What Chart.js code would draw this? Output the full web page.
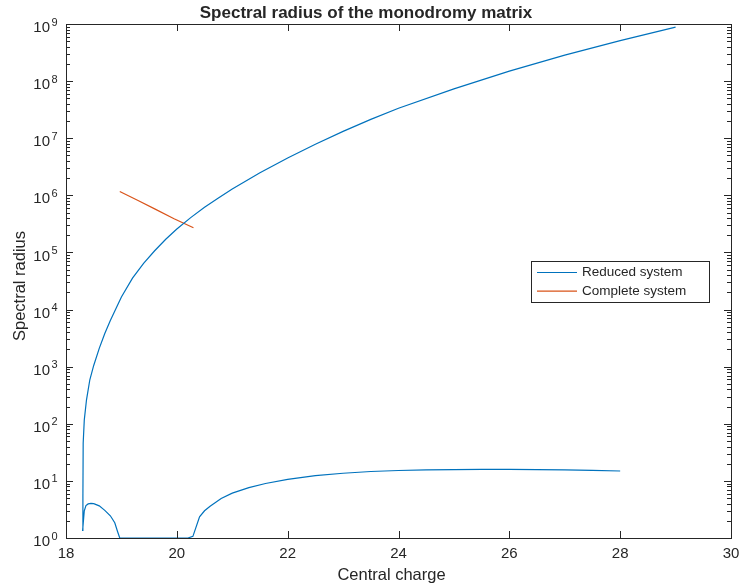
<!DOCTYPE html>
<html>
<head>
<meta charset="utf-8">
<script src="https://cdn.jsdelivr.net/npm/chart.js@4.4.0/dist/chart.umd.min.js"></script>
<style>
  html, body { margin: 0; padding: 0; background: #ffffff; }
  #wrap { width: 739px; height: 586px; }
</style>
</head>
<body>
<div id="wrap"><canvas id="chart" width="739" height="586"></canvas></div>
<script>
// lower branch (28 -> 18.3) then upper branch (18.3 -> 29), drawn as one line
var reducedX = [
    28.00, 27.50, 27.00, 26.50, 26.00, 25.50, 25.00, 24.50, 24.00, 23.50, 23.00, 22.50,
    22.00, 21.60, 21.30, 21.00, 20.80, 20.60, 20.50, 20.41, 20.29, 20.20, 20.00, 19.60,
    19.20, 18.97, 18.93, 18.88, 18.80, 18.70, 18.60, 18.50, 18.45, 18.40, 18.36, 18.33,
    18.30,
    18.305, 18.31, 18.33, 18.37, 18.43, 18.50, 18.60, 18.70, 18.80, 18.90, 19.00, 19.20,
    19.40, 19.60, 19.80, 20.00, 20.25, 20.50, 20.75, 21.00, 21.50, 22.00, 22.50, 23.00,
    23.50, 24.00, 25.00, 26.00, 27.00, 28.00, 29.00
];
var reducedY = [
    14.9, 15.3, 15.6, 15.8, 15.9, 15.9, 15.8, 15.6, 15.2, 14.6, 13.6, 12.4,
    10.6, 9.0, 7.6, 6.1, 4.9, 3.6, 3.0, 2.35, 1.07, 1.0, 1.0, 1.0,
    1.0, 1.0, 1.3, 1.85, 2.45, 3.05, 3.65, 4.0, 4.05, 3.95, 3.7, 3.0,
    1.36,
    5.2, 46, 117, 263, 590, 1050, 2090, 3800, 6460, 10350, 16600, 35500,
    64600, 1.07e5, 1.7e5, 2.57e5, 4.07e5, 6.17e5, 9.02e5, 1.29e6, 2.48e6, 4.52e6, 7.85e6, 1.32e7,
    2.14e7, 3.35e7, 7.33e7, 1.5e8, 2.85e8, 5.13e8, 8.81e8
];
var completeX = [18.97, 19.30, 19.60, 19.95, 20.30];
var completeY = [1.17e6, 8.1e5, 5.8e5, 3.9e5, 2.7e5];

var xTicks = [18, 20, 22, 24, 26, 28, 30];
var yTickExp = [0, 1, 2, 3, 4, 5, 6, 7, 8, 9];
var seriesNames = ['Reduced system', 'Complete system'];
var seriesColors = ['#0072BD', '#D95319'];
var titleText = 'Spectral radius of the monodromy matrix';
var xLabelText = 'Central charge';
var yLabelText = 'Spectral radius';

var FONT = '"Liberation Sans", Arial, Helvetica, sans-serif';
var INK = '#262626';

function toPoints(xs, ys) {
    return xs.map(function (x, i) { return { x: x, y: ys[i] }; });
}

// MATLAB-like box axes: ticks inside, labels with superscript exponents, inset legend
var matlabAxes = {
    id: 'matlabAxes',
    afterDatasetsDraw: function (chart) {
        var ctx = chart.ctx;
        var a = chart.chartArea;
        var xs = chart.scales.x;
        var ys = chart.scales.y;

        ctx.save();
        ctx.strokeStyle = INK;
        ctx.fillStyle = INK;
        ctx.lineWidth = 1;
        ctx.strokeRect(a.left + 0.5, a.top + 0.5, a.right - a.left, a.bottom - a.top);

        ctx.beginPath();
        xTicks.forEach(function (t) {
            var px = Math.round(xs.getPixelForValue(t)) + 0.5;
            ctx.moveTo(px, a.bottom); ctx.lineTo(px, a.bottom - 7);
            ctx.moveTo(px, a.top); ctx.lineTo(px, a.top + 7);
        });
        yTickExp.forEach(function (e) {
            var py = Math.round(ys.getPixelForValue(Math.pow(10, e))) + 0.5;
            ctx.moveTo(a.left, py); ctx.lineTo(a.left + 7, py);
            ctx.moveTo(a.right, py); ctx.lineTo(a.right - 7, py);
            if (e < 9) {
                for (var m = 2; m <= 9; m++) {
                    var pm = Math.round(ys.getPixelForValue(m * Math.pow(10, e))) + 0.5;
                    ctx.moveTo(a.left, pm); ctx.lineTo(a.left + 4, pm);
                    ctx.moveTo(a.right, pm); ctx.lineTo(a.right - 4, pm);
                }
            }
        });
        ctx.stroke();

        ctx.font = '15px ' + FONT;
        ctx.textAlign = 'center';
        ctx.textBaseline = 'middle';
        xTicks.forEach(function (t) {
            ctx.fillText(String(t), xs.getPixelForValue(t), a.bottom + 16);
        });

        yTickExp.forEach(function (e) {
            var py = ys.getPixelForValue(Math.pow(10, e));
            ctx.font = '15px ' + FONT;
            ctx.textAlign = 'right';
            ctx.fillText('10', a.left - 16, py + 4);
            ctx.font = '11px ' + FONT;
            ctx.textAlign = 'left';
            ctx.fillText(String(e), a.left - 14.5, py - 1.5);
        });

        ctx.font = 'bold 17px ' + FONT;
        ctx.textAlign = 'center';
        ctx.textBaseline = 'alphabetic';
        ctx.fillText(titleText, 366, 18);

        ctx.font = '16.5px ' + FONT;
        ctx.textBaseline = 'middle';
        ctx.fillText(xLabelText, 391.5, 575);

        ctx.save();
        ctx.translate(20, 286);
        ctx.rotate(-Math.PI / 2);
        ctx.fillText(yLabelText, 0, 0);
        ctx.restore();

        // legend
        ctx.fillStyle = '#ffffff';
        ctx.fillRect(531.5, 261.5, 178, 41);
        ctx.strokeStyle = INK;
        ctx.strokeRect(531.5, 261.5, 178, 41);
        ctx.font = '13.5px ' + FONT;
        ctx.textAlign = 'left';
        seriesNames.forEach(function (name, i) {
            var ly = 272.5 + i * 18.7;
            ctx.strokeStyle = seriesColors[i];
            ctx.lineWidth = 1.2;
            ctx.beginPath();
            ctx.moveTo(537, ly); ctx.lineTo(577, ly);
            ctx.stroke();
            ctx.fillStyle = INK;
            ctx.fillText(name, 582, ly);
        });
        ctx.restore();
    }
};

new Chart(document.getElementById('chart'), {
    type: 'line',
    data: {
        datasets: [{
            label: seriesNames[0],
            data: toPoints(reducedX, reducedY),
            borderColor: seriesColors[0],
            borderWidth: 1.2,
            pointRadius: 0,
            tension: 0,
            fill: false
        }, {
            label: seriesNames[1],
            data: toPoints(completeX, completeY),
            borderColor: seriesColors[1],
            borderWidth: 1.2,
            pointRadius: 0,
            tension: 0,
            fill: false
        }]
    },
    options: {
        responsive: false,
        animation: false,
        events: [],
        layout: { padding: { left: 66, right: 8, top: 24, bottom: 48 } },
        scales: {
            x: { type: 'linear', min: 18, max: 30, display: false },
            y: { type: 'logarithmic', min: 1, max: 1e9, display: false }
        },
        plugins: {
            legend: { display: false },
            tooltip: { enabled: false },
            title: { display: false }
        }
    },
    plugins: [matlabAxes]
});
</script>
</body>
</html>
